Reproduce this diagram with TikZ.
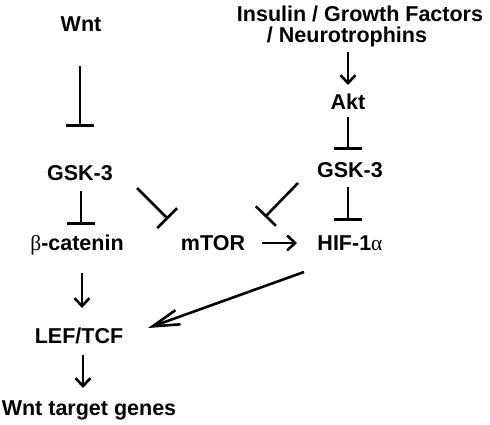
\documentclass[tikz,border=0pt]{standalone}
\usepackage{fontspec}
\setmainfont{Liberation Sans}
\newfontfamily\grk{Liberation Serif}
\usetikzlibrary{arrows.meta,calc}
\begin{document}
\begin{tikzpicture}[x=1pt,y=-1pt,
  lbl/.style={anchor=base, inner sep=0pt, font=\bfseries\fontsize{21.5}{21.5}\selectfont},
  conn/.style={line width=2.6pt},
  inh/.style={conn, -{Bar[width=28pt]}},
  act/.style={conn, -{Straight Barb[length=8pt,width=15pt]}},
  bigact/.style={conn, -{Straight Barb[length=27pt,width=15pt]}}]
\useasboundingbox (0,0) rectangle (490,425);
\fill[white] (0,0) rectangle (490,425);
\node[lbl] (wnt) at (81,32) {Wnt};
\node[lbl] (ins) at (360,22) {Insulin / Growth Factors};
\node[lbl] (neu) at (347,43) {/ Neurotrophins};
\node[lbl] (akt) at (348,110) {Akt};
\node[lbl] (gskL) at (80,180) {GSK-3};
\node[lbl] (gskR) at (350,177) {GSK-3};
\node[lbl] (bcat) at (77,250) {{\grk\mdseries β}-catenin};
\node[lbl] (mtor) at (213,250) {mTOR};
\node[lbl] (hif) at (350,250) {HIF-1{\grk\mdseries α}};
\node[lbl] (lef) at (79,343) {LEF/TCF};
\node[lbl] (wtg) at (89,415) {Wnt target genes};
% left column
\draw[inh] ($(wnt.base)+(-1,34)$) -- ($(gskL.base)+(0,-53)$);
\draw[inh] ($(gskL.base)+(1,11)$) -- ($(bcat.base)+(4,-25)$);
\draw[inh] ($(gskL.base)+(57,8)$) -- ($(mtor.base)+(-45,-31)$);
\draw[act] ($(bcat.base)+(5,23)$) -- ($(lef.base)+(3,-35)$);
\draw[act] ($(lef.base)+(4,12)$) -- ($(wtg.base)+(-6,-27)$);
% right column
\draw[act] ($(neu.base)+(1,9)$) -- ($(akt.base)+(0,-25)$);
\draw[inh] ($(akt.base)+(0,7)$) -- ($(gskR.base)+(-2,-27)$);
\draw[inh] ($(gskR.base)+(-2,10)$) -- ($(hif.base)+(-2,-29)$);
\draw[inh] ($(gskR.base)+(-52,6)$) -- ($(mtor.base)+(52,-33)$);
\draw[act] ($(mtor.base)+(49,-7)$) -- ($(hif.base)+(-53,-7)$);
\draw[bigact] ($(hif.base)+(-46,22)$) -- ($(lef.base)+(69,-15)$);
\end{tikzpicture}
\end{document}
